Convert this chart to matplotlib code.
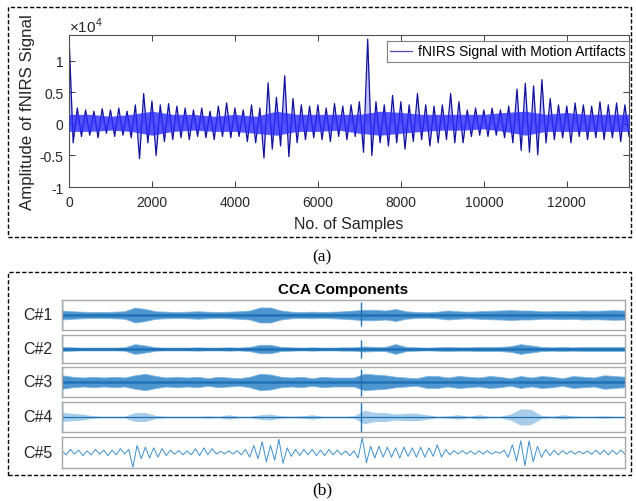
import numpy as np
import matplotlib
matplotlib.use('Agg')
import matplotlib.pyplot as plt
from matplotlib.patches import Rectangle

plt.rcParams['font.family'] = ['Liberation Sans', 'DejaVu Sans']
plt.rcParams['mathtext.fontset'] = 'custom'
plt.rcParams['mathtext.rm'] = 'Liberation Sans'

# ---------------- data ----------------
n_samples = 13500

# (a) fNIRS signal with motion artifacts, alternating peak / trough every 100 samples (x 1e4)
fnirs_peaks = [
    1.40, -0.30, 0.25, -0.20, 0.22, -0.18, 0.20, -0.22, 0.24, -0.15,
    0.22, -0.20, 0.25, -0.18, 0.20, -0.22, 0.30, -0.55, 0.48, -0.30,
    0.36, -0.50, 0.30, -0.28, 0.32, -0.25, 0.28, -0.22, 0.25, -0.25,
    0.22, -0.20, 0.25, -0.22, 0.20, -0.25, 0.28, -0.20, 0.33, -0.22,
    0.25, -0.20, 0.22, -0.28, 0.30, -0.30, 0.25, -0.54, 0.65, -0.40,
    0.42, -0.35, 0.76, -0.52, 0.40, -0.30, 0.30, -0.25, 0.28, -0.22,
    0.30, -0.25, 0.25, -0.28, 0.32, -0.20, 0.28, -0.25, 0.30, -0.20,
    0.35, -0.45, 1.34, -0.50, 0.35, -0.30, 0.30, -0.35, 0.45, -0.30,
    0.35, -0.40, 0.30, -0.28, 0.48, -0.25, 0.30, -0.35, 0.28, -0.30,
    0.30, -0.25, 0.48, -0.30, 0.35, -0.30, 0.22, -0.20, 0.25, -0.18,
    0.22, -0.20, 0.25, -0.18, 0.22, -0.22, 0.28, -0.30, 0.55, -0.42,
    0.64, -0.45, 0.60, -0.49, 0.70, -0.30, 0.40, -0.25, 0.30, -0.22,
    0.28, -0.30, 0.33, -0.20, 0.30, -0.25, 0.28, -0.22, 0.35, -0.25,
    0.30, -0.22, 0.33, -0.28, 0.30, -0.20,
]
# solid core band of the dense signal, every 500 samples (x 1e4)
fnirs_core_upper = [0.15, 0.15, 0.12, 0.15, 0.20, 0.15, 0.15, 0.12, 0.15, 0.12,
                    0.20, 0.15, 0.15, 0.15, 0.15, 0.20, 0.18, 0.15, 0.15, 0.15,
                    0.15, 0.18, 0.20, 0.15, 0.18, 0.15, 0.15, 0.15]
fnirs_core_lower = [-0.12, -0.12, -0.10, -0.12, -0.18, -0.12, -0.10, -0.12, -0.12, -0.15,
                    -0.18, -0.12, -0.12, -0.10, -0.15, -0.18, -0.15, -0.12, -0.10, -0.10,
                    -0.08, -0.12, -0.18, -0.12, -0.12, -0.12, -0.12, -0.12]
x_ticks = [0, 2000, 4000, 6000, 8000, 10000, 12000]
x_tick_labels = ['0', '2000', '4000', '6000', '8000', '10000', '12000']
y_ticks = [-1, -0.5, 0, 0.5, 1]
y_tick_labels = ['-1', '-0.5', '0', '0.5', '1']
legend_label = 'fNIRS Signal with Motion Artifacts'

# (b) CCA components (normalised), envelopes every 250 samples
component_labels = ['C#1', 'C#2', 'C#3', 'C#4', 'C#5']
c1_env = [0.30, 0.25, 0.22, 0.20, 0.20, 0.22, 0.25, 0.50, 0.40, 0.25,
          0.22, 0.20, 0.22, 0.25, 0.22, 0.20, 0.22, 0.25, 0.30, 0.50,
          0.50, 0.30, 0.22, 0.20, 0.22, 0.20, 0.22, 0.25, 0.30, 0.35,
          0.35, 0.30, 0.40, 0.25, 0.20, 0.18, 0.22, 0.30, 0.25, 0.22,
          0.25, 0.28, 0.30, 0.33, 0.30, 0.30, 0.25, 0.25, 0.28, 0.25,
          0.30, 0.28, 0.30, 0.32, 0.30]
c2_env = [0.15, 0.12, 0.10, 0.10, 0.10, 0.10, 0.12, 0.35, 0.25, 0.12,
          0.10, 0.10, 0.10, 0.12, 0.10, 0.10, 0.12, 0.10, 0.15, 0.30,
          0.30, 0.15, 0.12, 0.10, 0.12, 0.10, 0.10, 0.12, 0.12, 0.18,
          0.15, 0.15, 0.35, 0.15, 0.12, 0.10, 0.12, 0.15, 0.12, 0.12,
          0.15, 0.15, 0.15, 0.20, 0.35, 0.25, 0.15, 0.12, 0.15, 0.12,
          0.15, 0.15, 0.15, 0.15, 0.15]
c3_env = [0.45, 0.35, 0.30, 0.35, 0.30, 0.35, 0.30, 0.45, 0.55, 0.40,
          0.30, 0.35, 0.30, 0.35, 0.25, 0.35, 0.30, 0.25, 0.35, 0.55,
          0.50, 0.35, 0.30, 0.35, 0.25, 0.35, 0.30, 0.30, 0.30, 0.55,
          0.50, 0.45, 0.35, 0.30, 0.25, 0.40, 0.40, 0.30, 0.40, 0.35,
          0.30, 0.40, 0.35, 0.25, 0.40, 0.30, 0.40, 0.35, 0.25, 0.40,
          0.35, 0.30, 0.45, 0.40, 0.35]
c4_env = [0.30, 0.25, 0.20, 0.08, 0.05, 0.05, 0.05, 0.30, 0.30, 0.10,
          0.05, 0.05, 0.05, 0.05, 0.08, 0.05, 0.15, 0.05, 0.05, 0.15,
          0.20, 0.08, 0.05, 0.08, 0.15, 0.05, 0.05, 0.05, 0.08, 0.45,
          0.30, 0.30, 0.20, 0.25, 0.25, 0.15, 0.05, 0.08, 0.15, 0.05,
          0.15, 0.05, 0.05, 0.20, 0.55, 0.50, 0.10, 0.05, 0.15, 0.08,
          0.05, 0.05, 0.08, 0.05, 0.05]
# C#5: alternating values every 100 samples
c5_wave = [
    0.10, -0.15, 0.20, -0.10, 0.15, -0.20, 0.10, -0.15, 0.20, -0.10,
    0.15, -0.20, 0.15, -0.15, 0.25, -0.10, 0.20, -0.95, 0.45, -0.40,
    0.35, -0.35, 0.30, -0.30, 0.25, -0.20, 0.15, -0.10, 0.12, -0.15,
    0.10, -0.15, 0.25, -0.20, 0.30, -0.15, 0.25, -0.10, 0.08, -0.08,
    0.10, -0.10, 0.12, -0.15, 0.20, -0.30, 0.45, -0.40, 0.70, -0.60,
    0.45, -0.50, 0.85, -0.70, 0.30, -0.25, 0.20, -0.20, 0.20, -0.15,
    0.20, -0.20, 0.15, -0.20, 0.20, -0.15, 0.15, -0.15, 0.10, -0.20,
    0.10, -0.35, 0.95, -0.65, 0.40, -0.35, 0.40, -0.30, 0.35, -0.30,
    0.30, -0.35, 0.35, -0.25, 0.30, -0.30, 0.35, -0.30, 0.30, -0.25,
    0.50, -0.30, 0.20, -0.15, 0.12, -0.10, 0.12, -0.10, 0.10, -0.12,
    0.10, -0.10, 0.12, -0.10, 0.05, -0.05, 0.15, -0.30, 0.50, -0.55,
    0.75, -0.85, 0.75, -0.60, 0.40, -0.30, 0.20, -0.20, 0.15, -0.15,
    0.12, -0.10, 0.10, -0.10, 0.08, -0.08, 0.10, -0.12, 0.15, -0.12,
    0.15, -0.15, 0.15, -0.12, 0.15, -0.10,
]
spike_samples = [0, 7160]
spike_top = [[0.90, 0.90], [0.90, 0.65], [1.00, 0.90], [1.00, 1.00]]
spike_bottom = [[-1.00, -0.70], [-1.00, -0.65], [-1.00, -0.90], [-1.00, -1.00]]

# ---------------- figure ----------------
W, H = 636, 502
fig = plt.figure(figsize=(W / 100, H / 100), dpi=100)


def px_axes(l, t, r, b):
    return fig.add_axes([l / W, 1 - b / H, (r - l) / W, (b - t) / H])


def fx(px):
    return px / W


def fy(py):
    return 1 - py / H


# dashed frames
for (l, t, r, b) in [(8, 8, 631, 238), (8, 273, 631, 476)]:
    fig.patches.append(Rectangle((fx(l), fy(b)), (r - l) / W, (b - t) / H,
                                 transform=fig.transFigure, fill=False,
                                 edgecolor='black', lw=1.0, linestyle=(0, (3, 1.6))))

# ---- (a) ----
ax = px_axes(69, 36, 629, 188)
xa = np.linspace(0, n_samples, len(fnirs_peaks))
xc = np.linspace(0, n_samples, len(fnirs_core_upper))
ax.fill_between(xa, fnirs_peaks, 0, color='#7a7aff', alpha=0.45, lw=0, zorder=1)
ax.plot(xa, fnirs_peaks, color='#12129a', lw=0.9, label=legend_label, zorder=2)
ax.fill_between(xc, fnirs_core_lower, fnirs_core_upper, color='#2a2aff', alpha=0.8,
                lw=0, zorder=3)
ax.set_xlim(0, n_samples)
ax.set_ylim(-1, 1.406)
ax.set_xticks(x_ticks)
ax.set_xticklabels(x_tick_labels)
ax.set_yticks(y_ticks)
ax.set_yticklabels(y_tick_labels)
ax.tick_params(direction='in', top=True, right=True, length=4, width=0.7,
               labelsize=10, color='#404040', labelcolor='#262626')
ax.tick_params(axis='x', pad=6)
ax.tick_params(axis='y', pad=4)
for s in ax.spines.values():
    s.set_color('#505050')
    s.set_linewidth(0.8)
ax.set_xlabel('No. of Samples', fontsize=11.5, color='#262626', labelpad=5)
ax.set_ylabel('Amplitude of fNIRS Signal', fontsize=12.2, color='#262626', labelpad=3)
leg = ax.legend(loc='upper right', bbox_to_anchor=(1.0, 1 - 6 / 152), borderaxespad=0,
                fontsize=10, handlelength=1.6, handletextpad=0.4, borderpad=0.25,
                fancybox=False, framealpha=1)
leg.get_frame().set_edgecolor('#808080')
leg.get_frame().set_linewidth(0.8)
leg.get_lines()[0].set_color('#4a4ab8')
fig.text(fx(69), fy(33), r'$\times 10^{4}$', fontsize=11, color='#262626', va='baseline')

fig.text(fx(322), fy(257), '(a)', family='Liberation Serif', fontsize=12.5,
         ha='center', va='center')
fig.text(fx(322), fy(490), '(b)', family='Liberation Serif', fontsize=12.5,
         ha='center', va='center')

# ---- (b) ----
fig.text(fx(343), fy(290), 'CCA Components', fontsize=11, weight='bold',
         ha='center', va='center')
rows_px = [(301, 331), (336, 364), (368, 398), (403, 433), (438, 469)]
envs = [c1_env, c2_env, c3_env, c4_env]
comp_color = '#1f72b6'
for i, (t, b) in enumerate(rows_px):
    axc = px_axes(62, t, 625, b)
    axc.set_xlim(0, n_samples)
    axc.set_ylim(-1, 1)
    axc.set_xticks([])
    axc.set_yticks([])
    for s in axc.spines.values():
        s.set_color('#a8a8a8')
        s.set_linewidth(1.0)
    if i < 4:
        env = np.array(envs[i])
        xe = np.linspace(0, n_samples, len(env))
        if i < 3:
            axc.fill_between(xe, -env, env, color='#3a8aca', alpha=0.9, lw=0.6,
                             edgecolor='#7ab4e2')
            axc.axhline(0, color=comp_color, lw=1.8)
        else:
            axc.fill_between(xe, -env, env, color='#5fa5d9', alpha=0.55, lw=0)
            axc.axhline(0, color=comp_color, lw=0.9)
        axc.vlines(spike_samples, spike_bottom[i], spike_top[i], color=comp_color, lw=1.0)
    else:
        x5 = np.linspace(0, n_samples, len(c5_wave))
        axc.plot(x5, c5_wave, color='#3f8fca', lw=0.7)
    fig.text(fx(38), fy((t + b) / 2), component_labels[i], fontsize=11.5,
             color='#262626', ha='center', va='center')

fig.savefig('out.png', dpi=100)
